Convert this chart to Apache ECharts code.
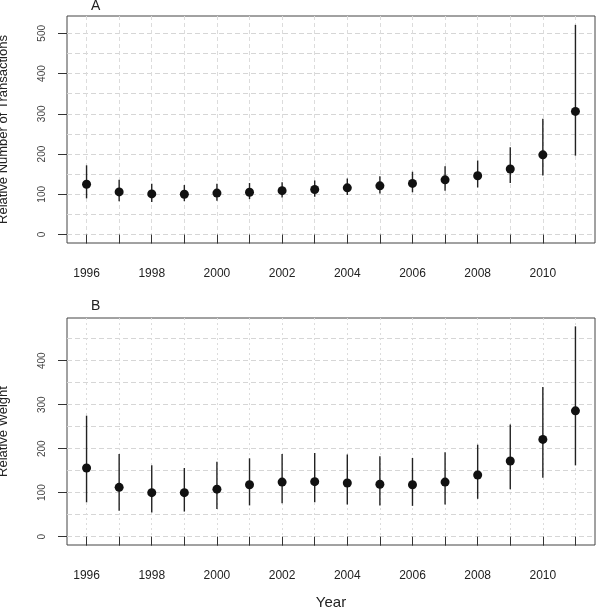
<!DOCTYPE html>
<html>
<head>
<meta charset="utf-8">
<script src="https://cdn.jsdelivr.net/npm/echarts@6/dist/echarts.min.js"></script>
<style>
  html, body { margin: 0; padding: 0; background: #fff; }
  #chart { width: 603px; height: 607px; }
</style>
</head>
<body>
<div id="chart"></div>
<script>
// years on the x axis
const years = [1996, 1997, 1998, 1999, 2000, 2001, 2002, 2003, 2004, 2005, 2006, 2007, 2008, 2009, 2010, 2011];
const yearLabels = [1996, 1998, 2000, 2002, 2004, 2006, 2008, 2010];

// panel A: relative number of transactions
const transMean = [125, 106, 101, 100, 103, 105, 109, 112, 116, 121, 127, 136, 146, 163, 198, 306];
const transLow = [90, 83, 81, 83, 84, 88, 92, 94, 98, 102, 105, 109, 117, 128, 147, 196];
const transHigh = [172, 136, 126, 123, 126, 128, 130, 134, 139, 145, 156, 170, 184, 217, 288, 521];
const ticksA = [0, 100, 200, 300, 400, 500];
const gridLinesA = [0, 50, 100, 150, 200, 250, 300, 350, 400, 450, 500];

// panel B: relative weight
const weightMean = [156, 112, 100, 100, 108, 118, 124, 125, 122, 119, 118, 124, 140, 172, 221, 286];
const weightLow = [78, 59, 55, 57, 63, 71, 76, 78, 73, 71, 70, 73, 86, 108, 134, 162];
const weightHigh = [275, 188, 162, 156, 170, 178, 188, 190, 187, 183, 179, 192, 209, 255, 340, 478];
const ticksB = [0, 100, 200, 300, 400];
const gridLinesB = [0, 50, 100, 150, 200, 250, 300, 350, 400, 450];

const font = "Liberation Sans, Arial, sans-serif";
const ink = "#222";

function errData(low, high) {
  return years.map((y, i) => [y, low[i], high[i]]);
}
function pointData(mean) {
  return years.map((y, i) => [y, mean[i]]);
}

function renderBar(params, api) {
  const x = api.value(0);
  const lo = api.coord([x, api.value(1)]);
  const hi = api.coord([x, api.value(2)]);
  return {
    type: "line",
    shape: { x1: lo[0], y1: lo[1], x2: hi[0], y2: hi[1] },
    style: { stroke: ink, lineWidth: 1.4 },
  };
}

function xAxis(gridIndex, withName, dash) {
  return {
    type: "value",
    gridIndex: gridIndex,
    min: 1995.4,
    max: 2011.6,
    name: withName ? "Year" : "",
    nameLocation: "middle",
    nameGap: 50,
    nameTextStyle: { fontFamily: font, fontSize: 15, color: ink },
    axisLine: { show: false },
    axisTick: { show: true, customValues: years, length: 9, lineStyle: { color: "#333" } },
    axisLabel: {
      customValues: yearLabels,
      formatter: (v) => String(v),
      fontFamily: font,
      fontSize: 12,
      color: ink,
      margin: 25,
    },
    splitLine: { show: true, lineStyle: { color: "#dcdcdc", type: dash, width: 1 } },
  };
}

function yAxis(gridIndex, min, max, ticks, name) {
  return {
    type: "value",
    gridIndex: gridIndex,
    min: min,
    max: max,
    name: name,
    nameLocation: "middle",
    nameGap: 57,
    nameTextStyle: { fontFamily: font, fontSize: 13, color: ink },
    axisLine: { show: false },
    axisTick: { show: true, customValues: ticks, length: 9, lineStyle: { color: "#333" } },
    axisLabel: { customValues: ticks, rotate: 90, fontFamily: font, fontSize: 10, color: "#444", margin: 20 },
    splitLine: { show: false },
  };
}

function gridAxis(gridIndex, min, max, lines) {
  return {
    type: "value",
    gridIndex: gridIndex,
    min: min,
    max: max,
    position: "left",
    axisLine: { show: false },
    axisTick: { show: false, customValues: lines },
    axisLabel: { show: false },
    splitLine: { show: true, lineStyle: { color: "#d6d6d6", type: [5, 3], width: 1 } },
  };
}

const chart = echarts.init(document.getElementById("chart"));
chart.setOption({
  animation: false,
  backgroundColor: "#fff",
  title: [
    { text: "A", left: 86, top: -6, textStyle: { fontFamily: font, fontSize: 14, fontWeight: "normal", color: ink } },
    { text: "B", left: 86, top: 294, textStyle: { fontFamily: font, fontSize: 14, fontWeight: "normal", color: ink } },
  ],
  grid: [
    { left: 67, right: 8, top: 16, height: 227, outerBoundsMode: "none", containLabel: false, show: true, borderColor: "#444", borderWidth: 1, backgroundColor: "transparent" },
    { left: 67, right: 8, top: 318, height: 227, outerBoundsMode: "none", containLabel: false, show: true, borderColor: "#444", borderWidth: 1, backgroundColor: "transparent" },
  ],
  xAxis: [xAxis(0, false, [4, 3]), xAxis(1, true, [2, 3])],
  yAxis: [
    yAxis(0, -21, 543, ticksA, "Relative Number of Transactions"),
    yAxis(1, -19, 497, ticksB, "Relative Weight"),
    gridAxis(0, -21, 543, gridLinesA),
    gridAxis(1, -19, 497, gridLinesB),
  ],
  series: [
    { type: "custom", xAxisIndex: 0, yAxisIndex: 0, renderItem: renderBar, data: errData(transLow, transHigh), encode: { x: 0, y: [1, 2] }, z: 3 },
    { type: "scatter", xAxisIndex: 0, yAxisIndex: 0, data: pointData(transMean), symbolSize: 9, itemStyle: { color: "#111", opacity: 1 }, z: 4 },
    { type: "custom", xAxisIndex: 1, yAxisIndex: 1, renderItem: renderBar, data: errData(weightLow, weightHigh), encode: { x: 0, y: [1, 2] }, z: 3 },
    { type: "scatter", xAxisIndex: 1, yAxisIndex: 1, data: pointData(weightMean), symbolSize: 9, itemStyle: { color: "#111", opacity: 1 }, z: 4 },
  ],
});
</script>
</body>
</html>
